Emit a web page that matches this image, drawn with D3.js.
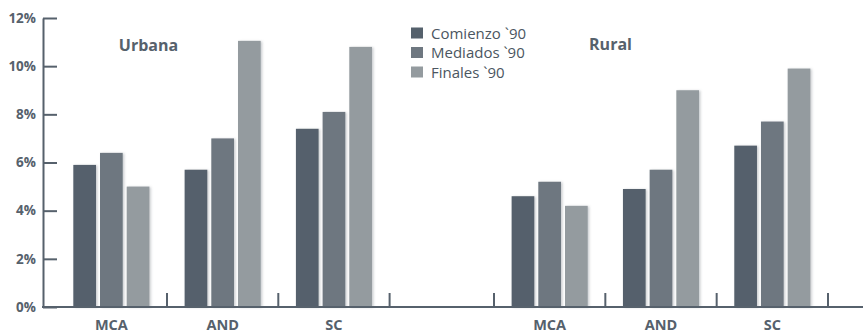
<!DOCTYPE html>
<html>
<head>
<meta charset="utf-8">
<script src="https://cdn.jsdelivr.net/npm/d3@7"></script>
<style>
  html, body { margin: 0; padding: 0; background: #fff; }
  svg { display: block; }
  text { font-family: "Open Sans", "DejaVu Sans", sans-serif; }
</style>
</head>
<body>
<svg id="chart" width="863" height="333"></svg>
<script>
// Data: share of households (%) by region, zone and period
const zones = ["Urbana", "Rural"];
const regions = ["MCA", "AND", "SC"];
const periods = ["Comienzo `90", "Mediados `90", "Finales `90"];
const urbanaValues = [
  [5.9, 6.4, 5.0],   // MCA
  [5.7, 7.0, 11.05], // AND
  [7.4, 8.1, 10.8]   // SC
];
const ruralValues = [
  [4.6, 5.2, 4.2],   // MCA
  [4.9, 5.7, 9.0],   // AND
  [6.7, 7.7, 9.9]    // SC
];
const yTicks = [0, 2, 4, 6, 8, 10, 12];

const colors = ["#55616c", "#6e7780", "#949b9f"];
const ink = "#56616c";

const svg = d3.select("#chart");

// Drop shadow for bars
const defs = svg.append("defs");
const f = defs.append("filter").attr("id", "shadow")
  .attr("x", "-20%").attr("y", "-5%").attr("width", "150%").attr("height", "115%");
f.append("feDropShadow").attr("dx", 1.5).attr("dy", 0.5)
  .attr("stdDeviation", 0.9).attr("flood-color", "#8a9096").attr("flood-opacity", 0.45);

const y = d3.scaleLinear().domain([0, 12]).range([307, 18]);

// One band scale per zone
const xZone = {
  Urbana: d3.scaleBand().domain(regions).range([55.7, 389.6]).paddingInner(0).paddingOuter(0),
  Rural: d3.scaleBand().domain(regions).range([494, 828]).paddingInner(0).paddingOuter(0)
};
const xPeriod = d3.scaleBand().domain(periods)
  .range([0, xZone.Urbana.bandwidth()])
  .paddingInner(0.15).paddingOuter(0.66);

const valuesByZone = { Urbana: urbanaValues, Rural: ruralValues };

// Bars
zones.forEach(z => {
  const xs = xZone[z];
  const rows = [];
  regions.forEach((r, i) => periods.forEach((p, j) => rows.push({ r, p, j, v: valuesByZone[z][i][j] })));
  svg.append("g").attr("filter", "url(#shadow)")
    .selectAll("rect").data(rows).join("rect")
    .attr("x", d => xs(d.r) + xPeriod(d.p))
    .attr("width", xPeriod.bandwidth())
    .attr("y", d => y(d.v))
    .attr("height", d => y(0) - y(d.v))
    .attr("fill", d => colors[d.j]);
});

// Y axis
const yAxis = d3.axisLeft(y).tickValues(yTicks)
  .tickFormat(d => d + "%").tickSizeInner(-14).tickSizeOuter(0).tickPadding(7);
const gy = svg.append("g").attr("transform", "translate(43,0)").call(yAxis);
gy.select(".domain").attr("stroke", ink).attr("stroke-width", 2);
gy.selectAll(".tick line").attr("stroke", ink).attr("stroke-width", 2);
gy.selectAll(".tick text").attr("fill", ink).attr("font-size", 13.5).attr("font-weight", 700)
  .attr("font-family", "'Open Sans', sans-serif");

// X baseline
svg.append("line").attr("x1", 42).attr("x2", 863).attr("y1", y(0)).attr("y2", y(0))
  .attr("stroke", ink).attr("stroke-width", 2);

// Boundary ticks between regions
const tickXs = [];
regions.forEach(r => tickXs.push(xZone.Urbana(r) + xZone.Urbana.bandwidth()));
tickXs.push(xZone.Rural(regions[0]));
regions.forEach(r => tickXs.push(xZone.Rural(r) + xZone.Rural.bandwidth()));
svg.append("g").selectAll("line").data(tickXs).join("line")
  .attr("x1", d => d).attr("x2", d => d)
  .attr("y1", y(0)).attr("y2", y(0) - 14)
  .attr("stroke", ink).attr("stroke-width", 2);

// Region labels
zones.forEach(z => {
  const xs = xZone[z];
  svg.append("g").selectAll("text").data(regions).join("text")
    .attr("x", d => xs(d) + xs.bandwidth() / 2)
    .attr("y", 329.5)
    .attr("text-anchor", "middle")
    .attr("font-size", 14.5).attr("font-weight", 700).attr("fill", ink)
    .text(d => d);
});

// Zone titles
svg.append("text").attr("x", 148.5).attr("y", 51).attr("text-anchor", "middle")
  .attr("font-size", 16).attr("font-weight", 700).attr("fill", ink).text(zones[0]);
svg.append("text").attr("x", 610.5).attr("y", 50).attr("text-anchor", "middle")
  .attr("font-size", 16).attr("font-weight", 700).attr("fill", ink).text(zones[1]);

// Legend
const legend = svg.append("g").attr("transform", "translate(411,0)");
const lg = legend.selectAll("g").data(periods).join("g")
  .attr("transform", (d, i) => `translate(0,${33 + i * 19.5})`);
lg.append("rect").attr("x", 0).attr("y", -5.5).attr("width", 12).attr("height", 11)
  .attr("fill", (d, i) => colors[i]);
lg.append("text").attr("x", 20).attr("y", 5.5)
  .attr("font-size", 15).attr("font-weight", 500).attr("fill", "#4b5661")
  .text(d => d);
</script>
</body>
</html>
